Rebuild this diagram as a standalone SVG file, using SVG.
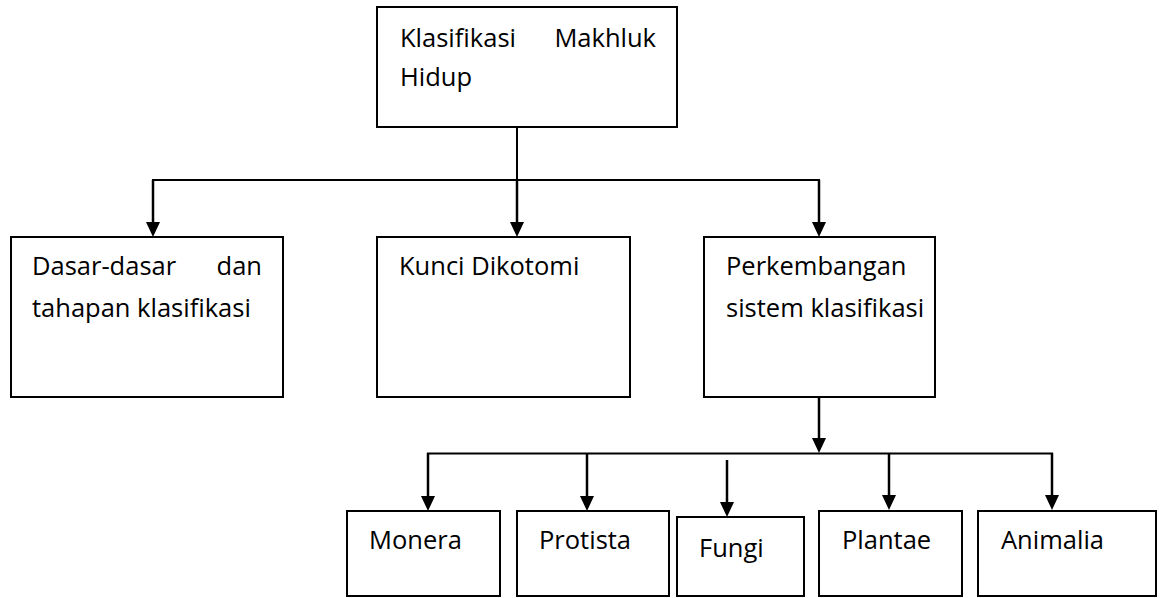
<svg xmlns="http://www.w3.org/2000/svg" width="1164" height="598" viewBox="0 0 1164 598">
<defs>
<marker id="arr" markerWidth="14" markerHeight="15" refX="7" refY="15" orient="auto-start-reverse" markerUnits="userSpaceOnUse" viewBox="0 0 14 15">
<path d="M0,0 L14,0 L7,15 Z" fill="#000"/>
</marker>
<style>
.box{fill:#fff;stroke:#000;stroke-width:2}
.t{font-family:"Open Sans","Liberation Sans",sans-serif;font-size:25.5px;fill:#000}
.c{fill:none;stroke:#000;stroke-width:2}
.a{fill:none;stroke:#000;stroke-width:2.5}
</style>
</defs>
<rect width="1164" height="598" fill="#fff"/>
<g id="connectors">
<line class="c" x1="517" y1="127" x2="517" y2="180"/>
<line class="c" x1="152" y1="180" x2="820" y2="180"/>
<path class="a" d="M153,180 V222" />
<path d="M146,222 L160,222 L153,237 Z"/>
<path class="a" d="M517,180 V222" />
<path d="M510,222 L524,222 L517,237 Z"/>
<path class="a" d="M819,180 V222" />
<path d="M812,222 L826,222 L819,237 Z"/>
<path class="a" d="M819,397 V438" />
<path d="M812,438 L826,438 L819,453 Z"/>
<line class="c" x1="427" y1="453.5" x2="1053" y2="453.5"/>
<path class="a" d="M428,453 V496" />
<path d="M421,496 L435,496 L428,511 Z"/>
<path class="a" d="M587,453 V496" />
<path d="M580,496 L594,496 L587,511 Z"/>
<path class="a" d="M727,460 V502" />
<path d="M720,502 L734,502 L727,517 Z"/>
<path class="a" d="M889,453 V495" />
<path d="M882,495 L896,495 L889,510 Z"/>
<path class="a" d="M1052,453 V495" />
<path d="M1045,495 L1059,495 L1052,510 Z"/>
</g>
<g id="root">
<rect class="box" x="377" y="7" width="300" height="120"/>
<text class="t" x="400" y="47">Klasifikasi</text>
<text class="t" x="656" y="47" text-anchor="end">Makhluk</text>
<text class="t" x="400" y="86">Hidup</text>
</g>
<g id="dasar">
<rect class="box" x="11" y="237" width="272" height="160"/>
<text class="t" x="32" y="275">Dasar-dasar</text>
<text class="t" x="262" y="275" text-anchor="end">dan</text>
<text class="t" x="32" y="317">tahapan klasifikasi</text>
</g>
<g id="kunci">
<rect class="box" x="377" y="237" width="253" height="160"/>
<text class="t" x="399" y="275">Kunci Dikotomi</text>
</g>
<g id="perkembangan">
<rect class="box" x="704" y="237" width="231" height="160"/>
<text class="t" x="726" y="275">Perkembangan</text>
<text class="t" x="726" y="317">sistem klasifikasi</text>
</g>
<g id="monera">
<rect class="box" x="347" y="511" width="153" height="85"/>
<text class="t" x="369" y="549">Monera</text>
</g>
<g id="protista">
<rect class="box" x="517" y="511" width="152" height="85"/>
<text class="t" x="539" y="549">Protista</text>
</g>
<g id="fungi">
<rect class="box" x="677" y="517" width="127" height="79"/>
<text class="t" x="699" y="557">Fungi</text>
</g>
<g id="plantae">
<rect class="box" x="819" y="511" width="143" height="85"/>
<text class="t" x="842" y="549">Plantae</text>
</g>
<g id="animalia">
<rect class="box" x="978" y="511" width="178" height="85"/>
<text class="t" x="1001" y="549">Animalia</text>
</g>
</svg>
